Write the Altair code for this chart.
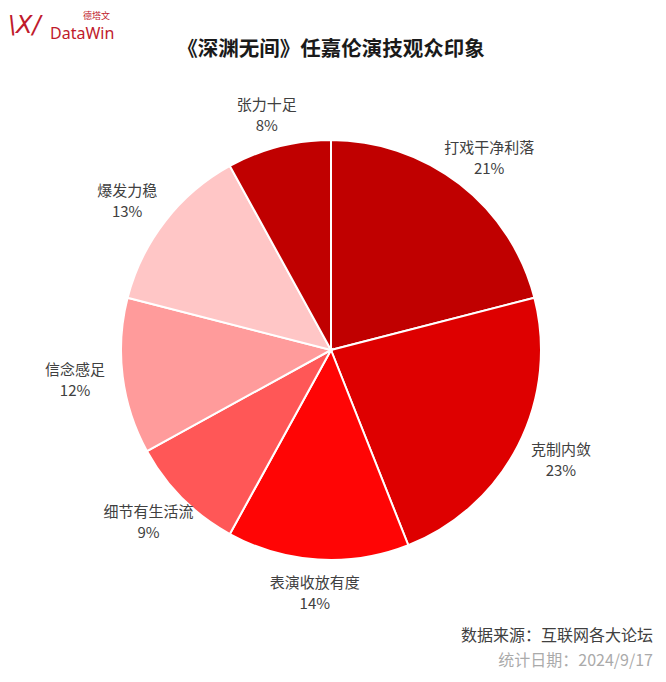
import altair as alt
import pandas as pd

labels = ["打戏干净利落", "克制内敛", "表演收放有度", "细节有生活流", "信念感足", "爆发力稳", "张力十足"]
values = [21, 23, 14, 9, 12, 13, 8]
colors = ["#C00000", "#DE0000", "#FF0505", "#FF5757", "#FF9B9B", "#FFC6C6", "#C00000"]

df = pd.DataFrame({
    "label": labels,
    "value": values,
    "order": list(range(len(labels))),
    "pct": [f"{v}%" for v in values],
})

FONT = "Noto Sans CJK SC"
CX, CY = 323, 342
RX, RY = 258, 243
TXT = "#404040"

pie = alt.Chart(df).mark_arc(outerRadius=210, stroke="white", strokeWidth=2).encode(
    theta=alt.Theta("value:Q", stack=True),
    order=alt.Order("order:Q"),
    color=alt.Color("label:N", scale=alt.Scale(domain=labels, range=colors), legend=None),
    x=alt.value(CX), y=alt.value(CY),
)

lbl_base = alt.Chart(df).transform_window(
    cum="sum(value)", sort=[alt.SortField("order")], frame=[None, 0]
).transform_joinaggregate(
    total="sum(value)"
).transform_calculate(
    ang="2*PI*(datum.cum - datum.value/2)/datum.total"
).transform_calculate(
    lx=f"{CX} + {RX}*sin(datum.ang)",
    ly=f"{CY} - {RY}*cos(datum.ang)",
).encode(
    x=alt.X("lx:Q", scale=None, axis=None),
    y=alt.Y("ly:Q", scale=None, axis=None),
)

name_txt = lbl_base.mark_text(dy=-10, font=FONT, fontSize=15, color=TXT).encode(text="label:N")
pct_txt = lbl_base.mark_text(dy=11, font=FONT, fontSize=15, color=TXT).encode(text="pct:N")

title = alt.Chart(pd.DataFrame({"t": ["《深渊无间》任嘉伦演技观众印象"]})).mark_text(
    font=FONT, fontSize=20.5, fontWeight="bold", color="#1a1a1a").encode(
    text="t:N", x=alt.value(323), y=alt.value(42))

logo1 = alt.Chart(pd.DataFrame({"t": ["DataWin"]})).mark_text(
    font="Noto Sans", fontSize=16, color="#C01A2C", align="left").encode(
    text="t:N", x=alt.value(42), y=alt.value(26))
logo2 = alt.Chart(pd.DataFrame({"t": ["德塔文"]})).mark_text(
    font=FONT, fontSize=9, color="#C01A2C", align="left").encode(
    text="t:N", x=alt.value(75), y=alt.value(8))
logo3 = alt.Chart(pd.DataFrame({"t": ["\\X/"]})).mark_text(
    font="DejaVu Sans", fontSize=24, fontStyle="italic", color="#C01A2C", align="left").encode(
    text="t:N", x=alt.value(0), y=alt.value(18))

foot1 = alt.Chart(pd.DataFrame({"t": ["数据来源：互联网各大论坛"]})).mark_text(
    font=FONT, fontSize=16, color=TXT, align="right").encode(
    text="t:N", x=alt.value(645), y=alt.value(628))
foot2 = alt.Chart(pd.DataFrame({"t": ["统计日期：2024/9/17"]})).mark_text(
    font=FONT, fontSize=16, color="#666666", align="right", opacity=0.55).encode(
    text="t:N", x=alt.value(645), y=alt.value(653))

chart = alt.layer(pie, name_txt, pct_txt, title, logo1, logo2, logo3, foot1, foot2).properties(
    width=650, height=666, padding=0, autosize=alt.AutoSizeParams(type="none")
).configure_view(stroke=None)

chart.save("out.html", embed_options={"renderer": "svg", "actions": False})
